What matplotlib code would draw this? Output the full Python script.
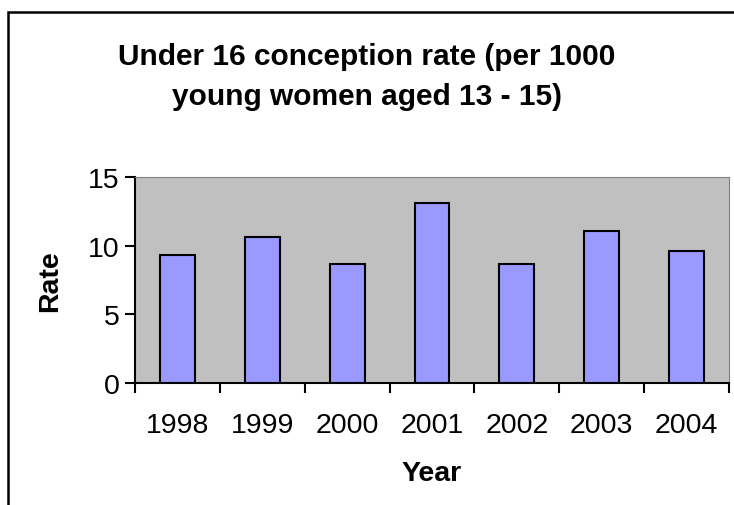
import matplotlib
matplotlib.use("Agg")
import matplotlib.pyplot as plt
from matplotlib.patches import Rectangle

years = ["1998", "1999", "2000", "2001", "2002", "2003", "2004"]
rates = [9.3, 10.6, 8.7, 13.1, 8.7, 11.1, 9.6]
yticks = [0, 5, 10, 15]
title_lines = ["Under 16 conception rate (per 1000", "young women aged 13 - 15)"]

W, H = 734, 506
fig = plt.figure(figsize=(W / 100, H / 100), dpi=100)
plt.rcParams['font.family'] = ['Liberation Sans', 'DejaVu Sans']

# outer chart border (cropped on right/bottom)
fig.patches.append(Rectangle((8 / W, -0.1), 1.2, (H - 13) / H + 0.1, transform=fig.transFigure,
                             fill=False, edgecolor='black', linewidth=1.8, zorder=0))

left, right, top, bottom = 135, 729, 178, 384
ax = fig.add_axes([left / W, 1 - bottom / H, (right - left) / W, (bottom - top) / H])
ax.set_facecolor('#C0C0C0')
x = list(range(len(years)))
ax.bar(x, rates, width=0.41, color='#9999FF', edgecolor='black', linewidth=1.5, zorder=3)
ax.set_xlim(-0.5, len(years) - 0.5)
ax.set_ylim(0, 15)
ax.set_yticks(yticks)
ax.set_yticklabels([str(t) for t in yticks], fontsize=20.5)
ax.set_xticks([i - 0.5 for i in range(len(years) + 1)])
ax.set_xticklabels([])
ax.set_xticks(x, minor=True)
ax.set_xticklabels(years, minor=True, fontsize=20.5)
ax.tick_params(axis='x', which='minor', length=0, pad=21)
ax.tick_params(axis='x', which='major', length=7, width=1.5, direction='out')
ax.tick_params(axis='y', length=7, width=1.5, direction='out', pad=4)
ax.spines['top'].set_color('#808080')
ax.spines['right'].set_color('#808080')
ax.spines['left'].set_linewidth(1.5)
ax.spines['bottom'].set_linewidth(1.5)
ax.set_xlabel('Year', fontsize=20.5, fontweight='bold', labelpad=16)
ax.set_ylabel('Rate', fontsize=20.5, fontweight='bold', labelpad=18)

fig.text(367 / W, 1 - 65 / H, title_lines[0], ha='center', va='baseline',
         fontsize=21.5, fontweight='bold')
fig.text(367 / W, 1 - 105 / H, title_lines[1], ha='center', va='baseline',
         fontsize=21.5, fontweight='bold')

fig.savefig('out.png', dpi=100)
